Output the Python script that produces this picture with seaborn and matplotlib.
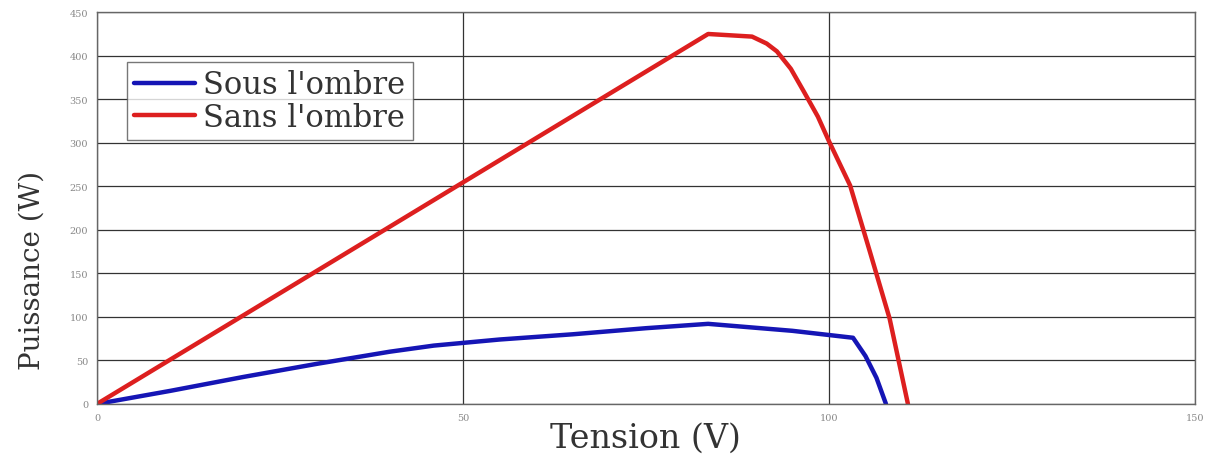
import matplotlib
matplotlib.use("Agg")
import matplotlib.pyplot as plt
import seaborn as sns
import pandas as pd

# Data
v_ombre = [0, 10, 20, 30, 40, 46, 55, 65, 75, 83.5, 95, 103.3, 105, 106.5, 107.8]
p_ombre = [0, 15, 31, 46, 60, 67, 74, 80, 87, 92, 84, 76, 55, 30, 0]
v_sans = [0, 83.5, 89.5, 91.5, 92.9, 94.8, 96.5, 98.5, 100, 102.9, 105.6, 108.3, 110.8]
p_sans = [0, 425, 422, 414, 405, 385, 360, 330, 302, 251, 175, 98, 0]
labels = ["Sous l'ombre", "Sans l'ombre"]
xticks = [0, 50, 100, 150]
yticks = [0, 50, 100, 150, 200, 250, 300, 350, 400, 450]

df = pd.concat([
    pd.DataFrame({"Tension": v_ombre, "Puissance": p_ombre, "serie": labels[0]}),
    pd.DataFrame({"Tension": v_sans, "Puissance": p_sans, "serie": labels[1]}),
], ignore_index=True)

sns.set_style("white")
plt.rcParams['font.family'] = ['DejaVu Serif']

fig = plt.figure(figsize=(12.13, 4.56), dpi=100)
ax = fig.add_axes([0.080, 0.112, 0.905, 0.859])

sns.lineplot(data=df, x="Tension", y="Puissance", hue="serie", sort=False,
             palette={labels[0]: "#1515b5", labels[1]: "#dd1f1f"},
             linewidth=3.2, ax=ax, estimator=None)

ax.set_xlim(0, 150)
ax.set_ylim(0, 450)
ax.set_xticks(xticks)
ax.set_yticks(yticks)
ax.grid(True, color="#333333", linewidth=0.9)
ax.set_axisbelow(True)
for s in ax.spines.values():
    s.set_color("#666666")
    s.set_linewidth(1.0)
ax.tick_params(axis="both", labelsize=7, colors="#999999", length=3, direction="out")
for lab in ax.get_xticklabels() + ax.get_yticklabels():
    lab.set_color("#888888")
ax.set_xlabel("Tension (V)", fontsize=24, color="#333333", labelpad=0)
ax.set_ylabel("Puissance (W)", fontsize=20, color="#333333")
ax.yaxis.set_label_coords(-0.047, 0.344)

leg = ax.legend(loc="upper left", bbox_to_anchor=(0.027, 0.874), fontsize=22,
                frameon=True, fancybox=False, handlelength=2.0, handletextpad=0.25,
                borderpad=0.25, labelspacing=0.05, borderaxespad=0)
leg.get_frame().set_edgecolor("#555555")
leg.get_frame().set_linewidth(1.0)
for t in leg.get_texts():
    t.set_color("#333333")

fig.savefig("out.png", dpi=100)
